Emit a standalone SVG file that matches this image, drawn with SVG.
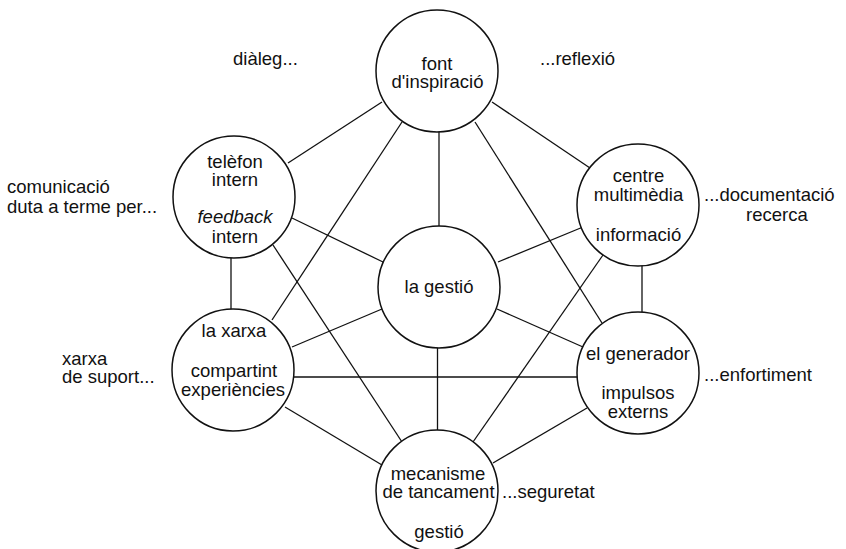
<svg xmlns="http://www.w3.org/2000/svg" width="846" height="549" viewBox="0 0 846 549">
<style>
.c{fill:#fff;stroke:#111;stroke-width:1.5}
.l{stroke:#111;stroke-width:1.3;fill:none}
text{font-family:"Liberation Sans",Arial,sans-serif;font-size:18.5px;fill:#111}
.m{text-anchor:middle}
</style>
<rect width="846" height="549" fill="#fff"/>
<g id="connectors">
<line class="l" x1="288" y1="163" x2="382" y2="102"/>
<line class="l" x1="492" y1="102" x2="590" y2="168"/>
<line class="l" x1="439" y1="131" x2="439" y2="226"/>
<line class="l" x1="402" y1="122" x2="272" y2="320"/>
<line class="l" x1="475" y1="122" x2="602" y2="323"/>
<line class="l" x1="292" y1="218" x2="383" y2="262"/>
<line class="l" x1="231" y1="257" x2="231" y2="311"/>
<line class="l" x1="273" y1="245" x2="402" y2="442"/>
<line class="l" x1="498" y1="262" x2="583" y2="227"/>
<line class="l" x1="642" y1="265" x2="642" y2="312"/>
<line class="l" x1="603" y1="255" x2="473" y2="442"/>
<line class="l" x1="292" y1="347" x2="382" y2="309"/>
<line class="l" x1="497" y1="309" x2="583" y2="347"/>
<line class="l" x1="437.5" y1="348" x2="437.5" y2="430"/>
<line class="l" x1="293" y1="377" x2="578" y2="377"/>
<line class="l" x1="285" y1="407" x2="382" y2="465"/>
<line class="l" x1="493" y1="463" x2="587" y2="408"/>
</g>
<g id="font">
<circle class="c" cx="437" cy="71" r="61"/>
<text class="m" x="437" y="70">font</text>
<text class="m" x="437.5" y="88">d'inspiració</text>
</g>
<g id="telefon">
<circle class="c" cx="234" cy="197" r="61"/>
<text class="m" x="235" y="168">telèfon</text>
<text class="m" x="235" y="186">intern</text>
<text class="m" x="235" y="223"><tspan font-style="italic">feedback</tspan></text>
<text class="m" x="235" y="243">intern</text>
</g>
<g id="centre">
<circle class="c" cx="638" cy="205" r="61"/>
<text class="m" x="638.5" y="182">centre</text>
<text class="m" x="638.5" y="201">multimèdia</text>
<text class="m" x="638.5" y="241">informació</text>
</g>
<g id="gestio">
<circle class="c" cx="439" cy="287" r="61"/>
<text class="m" x="439" y="293">la gestió</text>
</g>
<g id="xarxa">
<circle class="c" cx="233" cy="370" r="61"/>
<text class="m" x="234" y="337">la xarxa</text>
<text class="m" x="234" y="377">compartint</text>
<text class="m" x="233" y="396">experiències</text>
</g>
<g id="generador">
<circle class="c" cx="638" cy="373" r="61"/>
<text class="m" x="638" y="360">el generador</text>
<text class="m" x="638" y="399">impulsos</text>
<text class="m" x="638" y="418">externs</text>
</g>
<g id="mecanisme">
<circle class="c" cx="437" cy="491" r="61"/>
<text class="m" x="438" y="480">mecanisme</text>
<text class="m" x="438.5" y="498">de tancament</text>
<text class="m" x="439" y="538">gestió</text>
</g>
<g id="labels">
<text x="233" y="65">diàleg...</text>
<text x="540" y="65">...reflexió</text>
<text x="7" y="193">comunicació</text>
<text x="7" y="213">duta a terme per...</text>
<text x="704" y="201">...documentació</text>
<text x="746" y="221">recerca</text>
<text x="62" y="365">xarxa</text>
<text x="62" y="383">de suport...</text>
<text x="704" y="381">...enfortiment</text>
<text x="502" y="498">...seguretat</text>
</g>
</svg>
